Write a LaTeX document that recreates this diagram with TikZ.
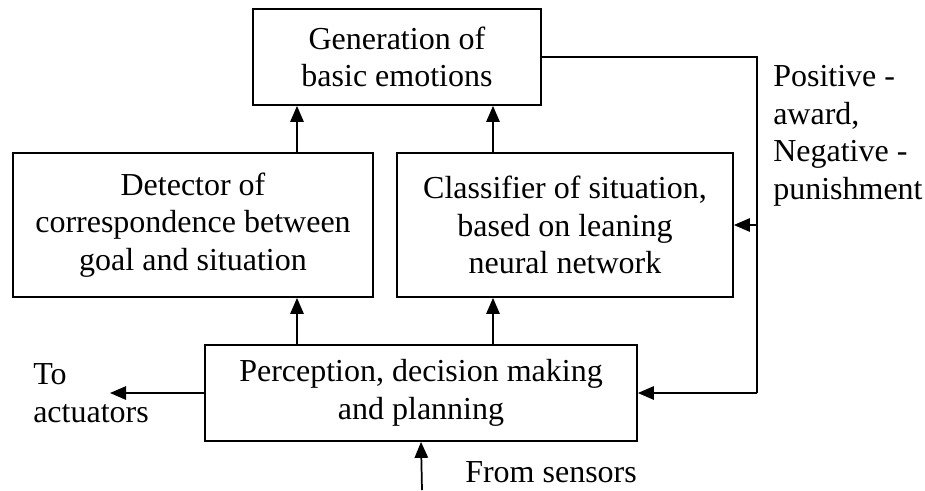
\documentclass[tikz,border=0pt]{standalone}
\usepackage{fontspec}
\setmainfont{Liberation Serif}
\usetikzlibrary{arrows.meta}
\tikzset{
    block/.style={draw,line width=1.3pt,align=center,inner sep=0pt,
        font=\fontsize{24}{28.1}\selectfont},
    note/.style={align=left,inner sep=0pt,font=\fontsize{24}{28.1}\selectfont},
    arr/.style={line width=1.3pt,-{Triangle[length=12pt,width=10pt]}},
    wire/.style={line width=1.3pt}
}

\begin{document}
\begin{tikzpicture}[x=0.75pt,y=-0.75pt]
    \useasboundingbox (0,0) rectangle (925,490);
    % blocks
    \node[block,minimum width=216pt,minimum height=72pt] (emo) at (397,57) {Generation of\\basic emotions};
    \node[block,minimum width=270pt,minimum height=108pt] (det) at (193,225) {Detector of\\correspondence between\\goal and situation};
    \node[block,minimum width=252pt,minimum height=108pt] (cls) at (565,225) {Classifier of situation,\\based on leaning\\neural network};
    \node[block,minimum width=324pt,minimum height=72pt] (perc) at (421,393) {Perception, decision making\\and planning};
    \coordinate (lx) at (297,0);
    \coordinate (mx) at (493,0);
    \coordinate (fb) at (757,57);
    \coordinate (act) at (110,393);
    \coordinate (sens) at (422,490);
    % upward flow
    \draw[arr] (lx |- perc.north) -- (lx |- det.south);
    \draw[arr] (lx |- det.north) -- (lx |- emo.south);
    \draw[arr] (mx |- perc.north) -- (mx |- cls.south);
    \draw[arr] (mx |- cls.north) -- (mx |- emo.south);
    % award / punishment loop
    \draw[wire] (emo.east |- fb) -- (fb) -- (fb |- perc.east) coordinate (fbend);
    \draw[arr] (fbend) -- (perc.east);
    \draw[arr] (fb |- cls.east) -- (cls.east);
    \node[note,anchor=west] (fbl) at (773,136) {Positive -\\award,\\Negative -\\punishment};
    % outside world
    \draw[arr] (perc.west) -- (act);
    \node[note,anchor=west] (actl) at (33,393) {To\\actuators};
    \draw[arr] (sens) -- (perc.south);
    \node[note,anchor=west] (sensl) at (465,472) {From sensors};
\end{tikzpicture}
\end{document}
